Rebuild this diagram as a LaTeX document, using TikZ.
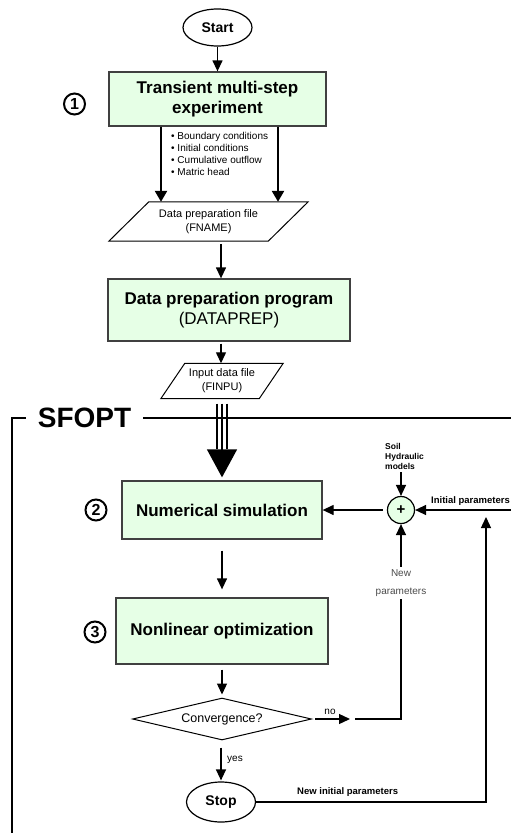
\documentclass[tikz,border=0pt]{standalone}
\usepackage{fontspec}
\setmainfont{Liberation Sans}
\usetikzlibrary{shapes.geometric, arrows.meta, positioning}

\definecolor{boxgreen}{HTML}{E6FFE6}
\definecolor{boxline}{HTML}{404040}

\tikzset{
  procbox/.style={rectangle, draw=boxline, line width=1.3pt, fill=boxgreen,
    align=center, inner sep=0pt, font=\fontsize{17}{20}\selectfont\bfseries},
  datafile/.style={rectangle, align=center, inner sep=0pt,
    font=\fontsize{11}{14}\selectfont},
  terminal/.style={ellipse, draw, line width=1.2pt, minimum width=69pt,
    inner sep=0pt, font=\fontsize{14}{16}\selectfont\bfseries},
  stepno/.style={circle, draw, line width=2pt, minimum size=21pt,
    inner sep=0pt, font=\fontsize{16}{16}\selectfont\bfseries},
  flow/.style={line width=1.3pt, -{Triangle[width=10pt,length=11pt]}},
  fatflow/.style={line width=2.4pt, -{Triangle[width=12pt,length=11pt]}},
  lbl/.style={inner sep=0pt, font=\fontsize{10}{12}\selectfont},
  boldlbl/.style={inner sep=0pt, font=\fontsize{9.5}{11}\selectfont\bfseries},
}

\begin{document}
\begin{tikzpicture}[x=1pt, y=-1pt]
  \useasboundingbox (0,0) rectangle (511,833);

  %% ---------- top: experiment and data preparation ----------
  \node[terminal, minimum height=37pt] (start) at (217.5,27.5) {Start};
  \node[procbox, minimum width=217pt, minimum height=54pt] (trans) at (217.5,99)
    {Transient multi-step\\experiment};
  \node[stepno] (n1) at (74.5,104) {1};
  \node[lbl, anchor=north west, align=left] (meas) at (171,132)
    {\textbullet\ Boundary conditions\\
     \textbullet\ Initial conditions\\
     \textbullet\ Cumulative outflow\\
     \textbullet\ Matric head};
  \node[datafile, minimum width=159pt, minimum height=39pt] (fname) at (208.5,221.5)
    {Data preparation file\\(FNAME)};
  \draw[line width=1pt] ([xshift=20pt]fname.north west) -- ([xshift=20pt]fname.north east)
    -- ([xshift=-20pt]fname.south east) -- ([xshift=-20pt]fname.south west) -- cycle;
  \node[procbox, minimum width=242pt, minimum height=62pt] (prep) at (229,310)
    {Data preparation program\\{\mdseries (DATAPREP)}};
  \node[datafile, minimum width=98pt, minimum height=35pt] (finpu) at (222,381)
    {Input data file\\(FINPU)};
  \draw[line width=1pt] ([xshift=12pt]finpu.north west) -- ([xshift=12pt]finpu.north east)
    -- ([xshift=-12pt]finpu.south east) -- ([xshift=-12pt]finpu.south west) -- cycle;

  \draw[flow] (start) -- (trans);
  \coordinate (tl) at ([xshift=-56.5pt]trans.south);
  \coordinate (tr) at ([xshift=60.5pt]trans.south);
  \draw[fatflow] (tl) -- (tl |- fname.north);
  \draw[fatflow] (tr) -- (tr |- fname.north);
  \coordinate (fp) at ([xshift=12.5pt]fname.south);
  \draw[flow, shorten <=3pt] (fp) -- (fp |- prep.north);
  \coordinate (pf) at ([xshift=-8pt]prep.south);
  \draw[flow, shorten <=2pt] (pf) -- (pf |- finpu.north);

  %% ---------- SFOPT frame ----------
  \node[inner xsep=12pt, inner ysep=0pt, font=\fontsize{28}{28}\selectfont\bfseries]
    (sfopt) at (84.5,418) {SFOPT};
  \draw[line width=1.5pt] (12,833) |- (sfopt.west);
  \draw[line width=1.5pt] (sfopt.east) -- (511,418);

  %% ---------- simulation / optimization loop ----------
  \node[procbox, minimum width=200pt, minimum height=58pt] (num) at (222,510)
    {Numerical simulation};
  \node[stepno] (n2) at (96,510) {2};
  \node[circle, draw, line width=1.2pt, fill=boxgreen, minimum size=27pt,
    inner sep=0pt, font=\fontsize{15}{15}\selectfont\bfseries] (plus) at (401,510) {+};
  \node[boldlbl, font=\fontsize{8.5}{10}\selectfont\bfseries, anchor=south west,
    align=left] (soil) at (385,470) {Soil\\Hydraulic\\models};
  \node[boldlbl, anchor=south west] (initlbl) at (431,506) {Initial parameters};
  \coordinate (initin) at (511,510);

  \node[procbox, minimum width=212pt, minimum height=66pt] (opt) at (222,631)
    {Nonlinear optimization};
  \node[stepno] (n3) at (95,632) {3};
  \node[diamond, draw, line width=1pt, aspect=4.26, minimum width=179pt,
    minimum height=42pt, inner sep=0pt, font=\fontsize{12.5}{14}\selectfont]
    (conv) at (222,719) {Convergence?};
  \node[terminal, minimum height=40pt] (stop) at (221,802) {Stop};

  % big input arrow (triple line)
  \draw[line width=1.3pt, -{Triangle[width=30pt,length=28pt]},
    shorten <=5pt, shorten >=3pt] (finpu.south) -- (num.north);
  \draw[line width=1.3pt, shorten <=5pt, shorten >=31pt]
    ([xshift=-5pt]finpu.south) -- ([xshift=-5pt]num.north);
  \draw[line width=1.3pt, shorten <=5pt, shorten >=31pt]
    ([xshift=5pt]finpu.south) -- ([xshift=5pt]num.north);

  \draw[flow, shorten <=2pt] (soil.south -| plus) -- (plus);
  \draw[flow] (initin) -- (plus);
  \draw[flow, shorten <=4pt] (plus) -- (num);
  \draw[flow, shorten <=11pt, shorten >=8pt] (num) -- (opt);
  \draw[flow, shorten <=5pt, shorten >=3pt] (opt) -- (conv);

  % no -> new parameters
  \coordinate (noend) at (350,719);
  \coordinate (newin) at (355,719);
  \draw[flow, shorten <=3pt] (conv.east) -- (noend);
  \node[lbl, anchor=south] (nolbl) at (330,715) {no};
  \draw[flow] (newin) -| (plus.south);
  \node[lbl, fill=white, inner ysep=3pt, text=black!70, align=center]
    (newpar) at (401,583) {New\\[6pt]parameters};

  % yes -> stop, then back to the initial parameters
  \draw[flow, shorten <=7pt, shorten >=1pt] (conv.south -| stop) -- (stop);
  \node[lbl, anchor=west] (yeslbl) at (227,760) {yes};
  \coordinate (retend) at (486,517);
  \draw[flow] (stop.east) -| (retend);
  \node[boldlbl, anchor=south west] (retlbl) at (297,797) {New initial parameters};
\end{tikzpicture}
\end{document}
